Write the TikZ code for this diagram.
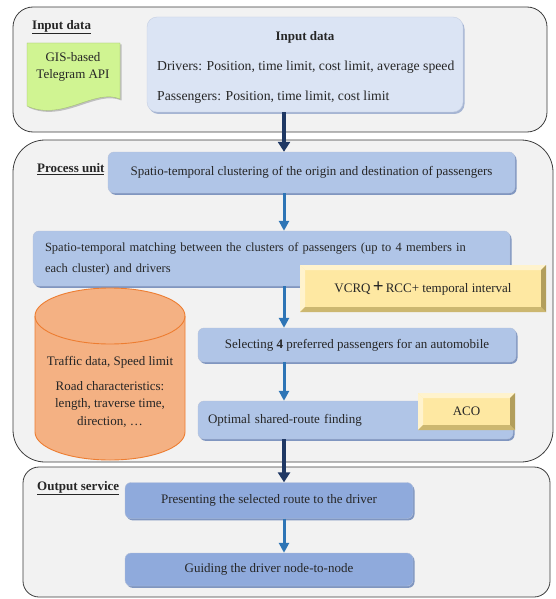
\documentclass[tikz,border=0pt]{standalone}
\usepackage{fontspec}
\setmainfont{Liberation Serif}
\usetikzlibrary{arrows.meta,calc,shadows}

\definecolor{panel}{RGB}{242,242,242}
\definecolor{panelline}{RGB}{60,60,60}
\definecolor{inblue}{RGB}{219,228,244}
\definecolor{stepblue}{RGB}{176,197,231}
\definecolor{outblue}{RGB}{143,170,220}
\definecolor{blueedge}{RGB}{128,150,192}
\definecolor{docgreen}{RGB}{208,244,146}
\definecolor{cylfill}{RGB}{244,177,131}
\definecolor{cylline}{RGB}{237,125,49}
\definecolor{yface}{RGB}{254,232,162}
\definecolor{ylight}{RGB}{255,243,205}
\definecolor{ydark}{RGB}{204,183,112}
\definecolor{ydarker}{RGB}{178,158,92}
\definecolor{navy}{RGB}{31,56,100}
\definecolor{arrowblue}{RGB}{46,117,182}

\begin{document}
\begin{tikzpicture}[x=1pt,y=-1pt,
  every node/.style={font=\fontsize{13}{15.6}\selectfont, text=black!85},
  bigtext/.style={font=\fontsize{13.7}{16.5}\selectfont},
  smalltext/.style={font=\fontsize{12.5}{15}\selectfont},
  panelbox/.style={fill=panel, draw=panelline, line width=0.8pt, inner sep=0pt},
  tag/.style={anchor=west, inner sep=0pt},
  inputbox/.style={rounded corners=10pt, fill=inblue, draw=blueedge!45, line width=0.4pt,
    drop shadow={shadow xshift=1.5pt, shadow yshift=-2pt, fill=blueedge!70, opacity=1}, inner sep=0pt},
  flowbox/.style={rounded corners=6pt, fill=stepblue, draw=blueedge!60, line width=0.4pt,
    drop shadow={shadow xshift=1.5pt, shadow yshift=-1.8pt, fill=blueedge, opacity=1},
    inner sep=0pt, align=center},
  outbox/.style={flowbox, fill=outblue},
  bevelbox/.style={fill=yface, draw=none, inner sep=0pt, align=center,
    path picture={
      \fill[ylight] (path picture bounding box.north west) -- (path picture bounding box.north east)
        -- ($(path picture bounding box.north east)+(-5,5)$) -- ($(path picture bounding box.north west)+(5,5)$) -- cycle;
      \fill[ylight] (path picture bounding box.north west) -- (path picture bounding box.south west)
        -- ($(path picture bounding box.south west)+(5,-5)$) -- ($(path picture bounding box.north west)+(5,5)$) -- cycle;
      \fill[ydark] (path picture bounding box.south west) -- (path picture bounding box.south east)
        -- ($(path picture bounding box.south east)+(-5,-5)$) -- ($(path picture bounding box.south west)+(5,-5)$) -- cycle;
      \fill[ydarker] (path picture bounding box.north east) -- (path picture bounding box.south east)
        -- ($(path picture bounding box.south east)+(-5,-5)$) -- ($(path picture bounding box.north east)+(-5,5)$) -- cycle;
    }},
  navyarrow/.style={draw=navy, line width=3.8pt, -{Triangle[width=12pt,length=10pt]}},
  bluearrow/.style={draw=arrowblue, line width=3pt, -{Triangle[width=10pt,length=10pt]}}
]
\useasboundingbox (0,0) rectangle (556,599);

% container panels
\node[panelbox, rounded corners=20pt, minimum width=534pt, minimum height=125pt] (inpanel) at (280,69.5) {};
\node[panelbox, rounded corners=32pt, minimum width=540pt, minimum height=322pt] (procpanel) at (283,301) {};
\node[panelbox, rounded corners=16pt, minimum width=527pt, minimum height=130pt] (outpanel) at (286.5,532) {};

% panel titles
\node[tag] (inlabel) at (32,27) {\underline{\textbf{Input data}}};
\node[tag] (proclabel) at (37,169) {\underline{\textbf{Process unit}}};
\node[tag] (outlabel) at (37,488) {\underline{\textbf{Output service}}};

% input source (document shape)
\path[fill=docgreen, draw=docgreen!75!black, line width=0.3pt,
      drop shadow={shadow xshift=1.5pt, shadow yshift=-1.5pt, fill=black!25, opacity=1}]
  (27,43) -- (120,43) -- (120,99) .. controls (95,88) and (62,122) .. (27,106) -- cycle;
\node[align=center] (gis) at (73,67) {GIS-based\\[2pt]Telegram API};

% input data box
\node[inputbox, minimum width=316pt, minimum height=95pt] (inbox) at (305,64.5) {};
\node (intitle) at (305,37) {\textbf{Input data}};
\node[tag, bigtext] (indrv) at (157,67) {Drivers: Position, time limit, cost limit, average speed};
\node[tag, bigtext] (inpas) at (157,97) {Passengers: Position, time limit, cost limit};

% process steps
\node[flowbox, minimum width=407pt, minimum height=41pt] (box1) at (311.5,172.5)
  {Spatio-temporal clustering of the origin and destination of passengers};
\node[flowbox, smalltext, minimum width=477pt, minimum height=55pt, text width=453pt, align=left] (box2) at (271.5,258.5)
  {Spatio-temporal matching between the clusters of passengers (up to 4 members in\\[6pt]each cluster) and drivers};
\node[bevelbox, minimum width=246pt, minimum height=47pt] (vcrq) at (423,288.5)
  {VCRQ\,{\fontsize{19}{19}\selectfont\textbf{+}}\,RCC+ temporal interval};
\node[flowbox, minimum width=318pt, minimum height=34pt] (box3) at (357,345)
  {Selecting \textbf{4} preferred passengers for an automobile};
\node[flowbox, minimum width=315pt, minimum height=38pt, text width=295pt, align=left] (box4) at (355.5,420)
  {Optimal shared-route finding};
\node[bevelbox, minimum width=97pt, minimum height=37pt] (aco) at (466.5,411.5) {ACO};

% road database cylinder
\path[fill=cylfill, draw=cylline, line width=0.9pt]
  (35,316) -- (35,432)
  .. controls (35,447.5) and (68.6,460) .. (110,460)
  .. controls (151.4,460) and (185,447.5) .. (185,432)
  -- (185,316)
  .. controls (185,300.5) and (151.4,288) .. (110,288)
  .. controls (68.6,288) and (35,300.5) .. (35,316) -- cycle;
\draw[cylline, line width=0.9pt]
  (35,316) .. controls (35,331.5) and (68.6,344) .. (110,344)
  .. controls (151.4,344) and (185,331.5) .. (185,316);
\node[align=center] (cyltext) at (110,392)
  {Traffic data, Speed limit\\[9pt]Road characteristics:\\[2pt]length, traverse time,\\[2pt]direction, \dots};

% output steps
\node[outbox, minimum width=288pt, minimum height=36pt] (box5) at (269,500.5)
  {Presenting the selected route to the driver};
\node[outbox, minimum width=288pt, minimum height=33pt] (box6) at (269,569.5)
  {Guiding the driver node-to-node};

% flow connectors
\coordinate (spine) at (284,0);
\draw[navyarrow] (inbox.south -| spine) -- (box1.north -| spine);
\draw[bluearrow] (box1.south -| spine) -- (box2.north -| spine);
\draw[bluearrow] (box2.south -| spine) -- (box3.north -| spine);
\draw[bluearrow] (box3.south -| spine) -- (box4.north -| spine);
\draw[navyarrow] (box4.south -| spine) -- (box5.north -| spine);
\draw[bluearrow] (box5.south -| spine) -- (box6.north -| spine);
\end{tikzpicture}
\end{document}
